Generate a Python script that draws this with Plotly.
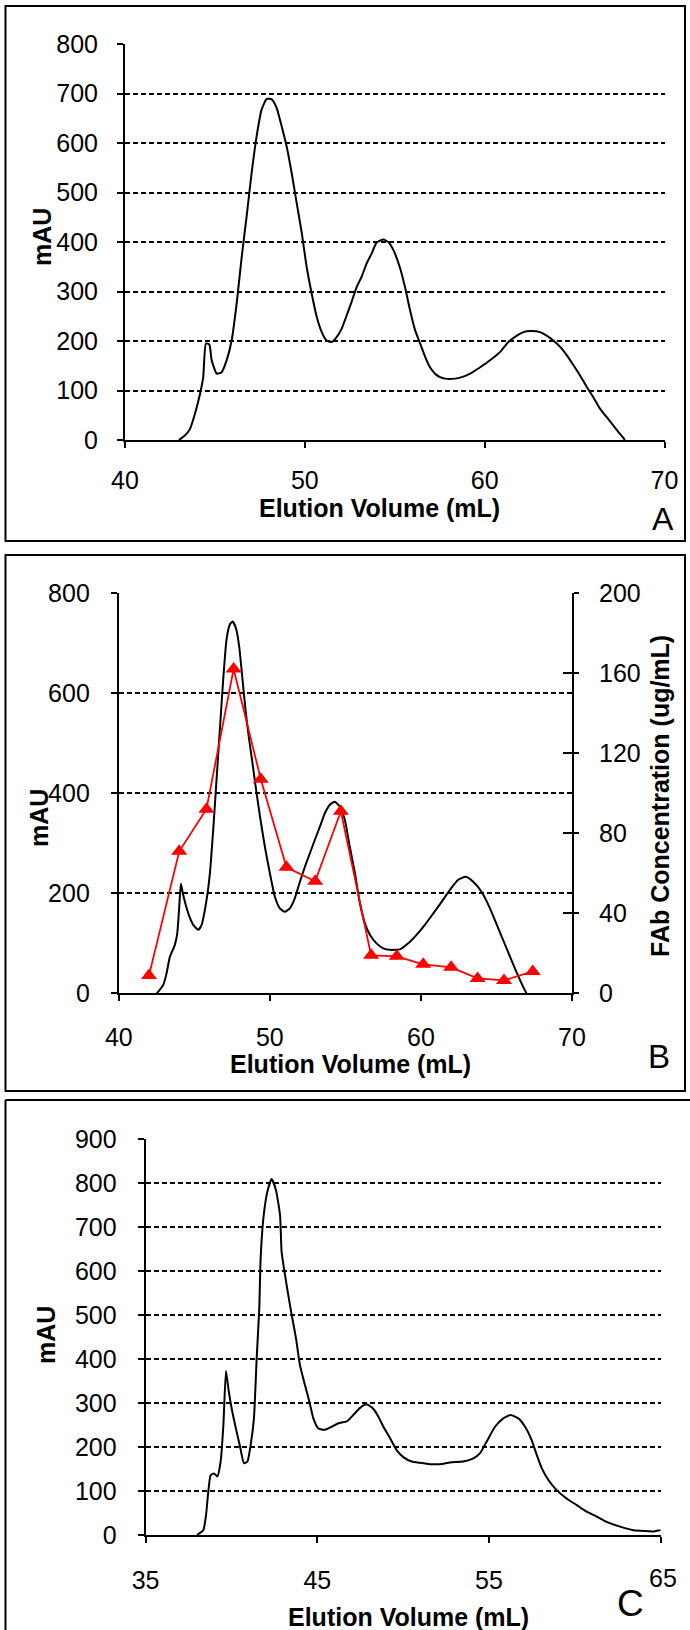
import plotly.graph_objects as go

W, H = 690, 1630

# ---------------- data ----------------
# Panel A: chromatogram (Elution volume mL, mAU)
a_vol = [43.0, 43.33, 43.61, 43.89, 44.17, 44.35, 44.50, 44.69, 44.82, 45.1, 45.37, 45.65, 45.93,
         46.21, 46.49, 46.76, 47.04, 47.32, 47.6, 47.88, 48.16, 48.43, 48.71, 48.99, 49.27, 49.55,
         49.83, 50.1, 50.38, 50.66, 50.94, 51.21, 51.49, 51.77, 52.05, 52.33, 52.6, 52.88, 53.16,
         53.44, 53.72, 53.99, 54.37, 54.64, 54.92, 55.29, 55.57, 55.85, 56.13, 56.41, 56.69, 56.96,
         57.24, 57.52, 57.8, 58.35, 58.73, 59.19, 59.75, 60.3, 60.86, 61.32, 61.79, 62.16, 62.53,
         63.08, 63.45, 63.82, 64.2, 64.57, 64.94, 65.31, 65.68, 66.05, 66.42, 66.79, 67.16, 67.44,
         67.72, 67.8]
a_mau = [0, 9, 22, 53, 93, 127, 195, 193, 161, 134, 137, 161, 201,
         276, 370, 451, 539, 614, 668, 689, 688, 671, 634, 593, 539, 478,
         418, 350, 296, 249, 218, 201, 198, 208, 225, 252, 279, 309, 330,
         357, 377, 399, 405, 400, 384, 348, 309, 262, 222, 195, 168, 147,
         134, 127, 124, 124, 127, 134, 147, 161, 178, 198, 211, 218, 220,
         218, 211, 201, 188, 171, 151, 130, 107, 86, 63, 46, 29, 16,
         4, 0]

# Panel B: chromatogram + FAb concentration
b_vol = [42.5, 42.6, 42.94, 43.16, 43.38, 43.71, 43.87, 44.0, 44.11, 44.26, 44.6, 44.93, 45.26,
         45.48, 45.81, 46.03, 46.25, 46.47, 46.69, 46.91, 47.13, 47.35, 47.53, 47.75, 47.97, 48.19,
         48.41, 48.63, 48.85, 49.12, 49.38, 49.67, 50.0, 50.33, 50.66, 50.99, 51.32, 51.65, 51.99,
         52.32, 52.65, 52.98, 53.31, 53.64, 53.97, 54.3, 54.63, 54.96, 55.29, 55.63, 55.96, 56.29,
         56.62, 57.06, 57.51, 57.95, 58.61, 59.16, 59.71, 60.26, 60.82, 61.37, 61.92, 62.47, 62.98,
         63.46, 64.01, 64.57, 65.12, 65.67, 66.22, 66.77, 66.99]
b_mau = [0, 3, 17, 40, 73, 97, 120, 173, 219, 197, 160, 137, 127,
         137, 187, 240, 327, 427, 527, 627, 707, 737, 743, 730, 693, 627,
         560, 507, 460, 400, 347, 293, 240, 193, 170, 163, 170, 190, 223,
         253, 280, 307, 333, 360, 377, 383, 373, 347, 293, 240, 180, 140,
         117, 100, 90, 87, 88, 100, 117, 137, 160, 183, 207, 227, 233,
         223, 203, 170, 130, 90, 50, 13, 0]

fab_vol = [42.0, 44.0, 45.8, 47.6, 49.4, 51.1, 53.0, 54.7, 56.7, 58.4, 60.15, 62.0, 63.75, 65.5, 67.4]
fab_conc = [9, 71, 92, 162, 107, 63, 56, 91, 19, 18.5, 14.5, 13, 7.5, 6.5, 11]

# Panel C: chromatogram
c_vol = [38.0, 38.07, 38.36, 38.52, 38.65, 38.79, 38.98, 39.18, 39.37, 39.53, 39.68, 39.82, 40.01,
         40.3, 40.5, 40.73, 40.93, 41.12, 41.31, 41.47, 41.62, 41.70, 41.86, 42.09, 42.34, 42.59,
         42.83, 42.92, 43.12, 43.31, 43.51, 43.76, 43.99, 44.28, 44.54, 44.77, 45.06, 45.45, 45.84,
         46.23, 46.71, 47.1, 47.49, 47.88, 48.23, 48.56, 48.85, 49.24, 49.62, 50.01, 50.5, 50.98,
         51.56, 52.15, 52.73, 53.5, 54.09, 54.48, 54.86, 55.35, 55.83, 56.26, 56.71, 57.1, 57.48,
         57.78, 58.07, 58.46, 58.94, 59.52, 60.11, 60.69, 61.27, 61.85, 62.63, 63.41, 64.09, 64.57,
         64.96, 65.0]
c_mau = [0, 2, 11, 45, 98, 136, 140, 133, 167, 250, 373, 333, 288,
         235, 201, 163, 167, 205, 265, 402, 515, 629, 720, 780, 809, 784,
         727, 644, 591, 545, 500, 447, 386, 341, 303, 265, 242, 239, 246,
         254, 258, 273, 289, 297, 288, 269, 246, 220, 193, 177, 167, 164,
         161, 161, 165, 167, 174, 186, 212, 246, 265, 273, 265, 246, 216,
         182, 152, 125, 102, 83, 68, 53, 42, 30, 19, 11, 9, 8,
         11, 11]

a_xticks = [40, 50, 60, 70]
a_yticks = [0, 100, 200, 300, 400, 500, 600, 700, 800]
b_yticks = [0, 200, 400, 600, 800]
b_y2ticks = [0, 40, 80, 120, 160, 200]
c_xticks = [35, 45, 55, 65]
c_xticktext = ["35", "45", "55", ""]
c_yticks = [0, 100, 200, 300, 400, 500, 600, 700, 800, 900]

# ---------------- helpers ----------------
def px(x):
    return x / W


def py(y):
    return 1 - y / H


FONT = "Liberation Sans, Arial, sans-serif"
tickfont = dict(family=FONT, size=25, color="black")

fig = go.Figure()

line_style = dict(color="black", width=2, shape="spline", smoothing=0.5)
fig.add_trace(go.Scatter(x=a_vol, y=a_mau, mode="lines", line=line_style, xaxis="x", yaxis="y"))
fig.add_trace(go.Scatter(x=b_vol, y=b_mau, mode="lines", line=line_style, xaxis="x2", yaxis="y2"))
fig.add_trace(go.Scatter(x=fab_vol, y=fab_conc, mode="lines+markers",
                         line=dict(color="#ff0000", width=1.8),
                         marker=dict(symbol="triangle-up", size=14, color="#ff0000"),
                         xaxis="x2", yaxis="y4"))
fig.add_trace(go.Scatter(x=[None], y=[None], mode="lines", xaxis="x2", yaxis="y5",
                         hoverinfo="skip"))
fig.add_trace(go.Scatter(x=c_vol, y=c_mau, mode="lines", line=line_style, xaxis="x3", yaxis="y3"))


def xax(domain, anchor, rng, tickvals, standoff, ticktext=None):
    d = dict(domain=domain, anchor=anchor, range=rng, tickmode="array", tickvals=tickvals,
             ticks="outside", ticklen=6, tickwidth=1.5, tickcolor="black",
             showline=True, linewidth=2, linecolor="black", showgrid=False, zeroline=False,
             tickfont=tickfont, automargin=False, ticklabelstandoff=standoff, fixedrange=True)
    if ticktext is not None:
        d["ticktext"] = ticktext
    return d


def yax(domain, anchor, rng, tickvals, standoff, grid=True):
    return dict(domain=domain, anchor=anchor, range=rng, tickmode="array", tickvals=tickvals,
                ticks="outside", ticklen=6, tickwidth=1.5, tickcolor="black",
                showline=True, linewidth=2, linecolor="black",
                showgrid=grid, gridcolor="black", gridwidth=2, griddash="5px,3px",
                zeroline=False, tickfont=tickfont, automargin=False,
                ticklabelstandoff=standoff, fixedrange=True)


fig.update_layout(
    width=W, height=H,
    margin=dict(l=0, r=0, t=0, b=0),
    paper_bgcolor="white", plot_bgcolor="white",
    showlegend=False,
    xaxis=xax([px(125), px(664.5)], "y", [40, 70], a_xticks, 11),
    yaxis=yax([py(440), py(44)], "x", [0, 800], a_yticks, 14),
    xaxis2=xax([px(118.8), px(572)], "y2", [40, 70], a_xticks, 15),
    yaxis2=yax([py(993.4), py(593)], "x2", [0, 800], b_yticks, 16),
    xaxis3=xax([px(145.6), px(660.7)], "y3", [35, 65], c_xticks, 16, c_xticktext),
    yaxis3=yax([py(1535), py(1139)], "x3", [0, 900], c_yticks, 16),
)
fig.update_layout(
    yaxis4=dict(overlaying="y2", side="right", anchor="x2", range=[0, 200], tickmode="array",
                tickvals=b_y2ticks, ticks="outside", ticklen=5, tickwidth=1.5, tickcolor="black",
                showline=True, linewidth=2, linecolor="black", showgrid=False, zeroline=False,
                tickfont=tickfont, automargin=False, ticklabelstandoff=15, fixedrange=True),
    yaxis5=dict(overlaying="y2", side="right", anchor="x2", range=[0, 200], tickmode="array",
                tickvals=b_y2ticks, ticks="inside", ticklen=9, tickwidth=1.5, tickcolor="black",
                showline=False, showgrid=False, zeroline=False, showticklabels=False,
                automargin=False, fixedrange=True),
)

# panel frames
frame = dict(color="black", width=2)
fig.add_shape(type="rect", xref="paper", yref="paper", x0=px(5.5), x1=px(685), y0=py(541), y1=py(6), line=frame)
fig.add_shape(type="rect", xref="paper", yref="paper", x0=px(5.5), x1=px(685), y0=py(1091), y1=py(555), line=frame)
fig.add_shape(type="line", xref="paper", yref="paper", x0=px(5.5), x1=px(700), y0=py(1100), y1=py(1100), line=frame)
fig.add_shape(type="line", xref="paper", yref="paper", x0=px(5.5), x1=px(5.5), y0=py(1100), y1=py(1640), line=frame)

bold = dict(family=FONT, size=25, color="black")


def ann(text, x, y, font, angle=0):
    fig.add_annotation(text=text, x=px(x), y=py(y), xref="paper", yref="paper",
                       showarrow=False, xanchor="center", yanchor="middle",
                       textangle=angle, font=font)


# Panel A
ann("<b>mAU</b>", 42, 237, bold, -90)
ann("<b>Elution Volume (mL)</b>", 379, 508, bold)
ann("A", 663, 519, dict(family=FONT, size=32, color="black"))
# Panel B
ann("<b>mAU</b>", 39, 818, bold, -90)
ann("<b>Elution Volume (mL)</b>", 350, 1064, bold)
ann("<b>FAb Concentration (ug/mL)</b>", 660, 796, bold, -90)
ann("B", 659, 1056, dict(family=FONT, size=33, color="black"))
# Panel C
ann("<b>mAU</b>", 46, 1335, bold, -90)
ann("<b>Elution Volume (mL)</b>", 408, 1617, bold)
ann("C", 630, 1603, dict(family=FONT, size=37, color="black"))
ann("65", 663, 1578, tickfont)

fig.write_html("out.html")
